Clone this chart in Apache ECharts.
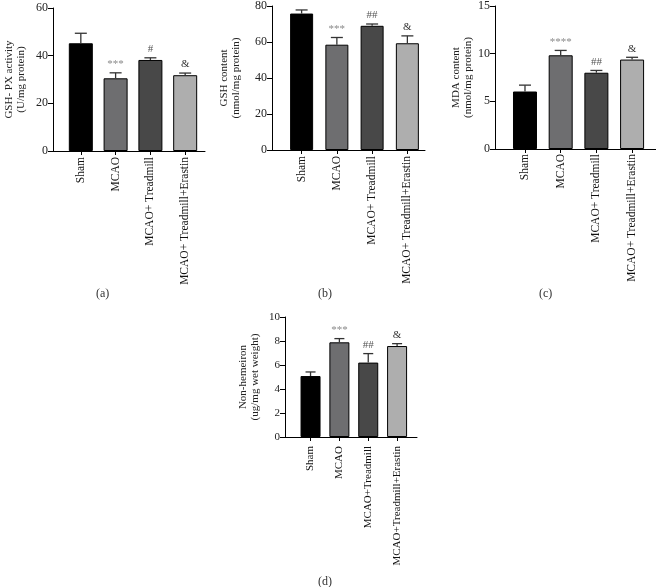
<!DOCTYPE html>
<html><head><meta charset="utf-8">
<script src="https://cdn.jsdelivr.net/npm/echarts@6/dist/echarts.min.js"></script>
<style>html,body{margin:0;padding:0;background:#fff}#c{width:656px;height:587px}</style>
</head><body><div id="c"></div>
<script>
// ---- data ----
const categoriesABC = ['Sham', 'MCAO', 'MCAO+ Treadmill', 'MCAO+ Treadmill+Erastin'];
const categoriesD = ['Sham', 'MCAO', 'MCAO+Treadmill', 'MCAO+Treadmill+Erastin'];
const gshpxValues = [45.2, 30.5, 38.2, 31.8];
const gshpxErrors = [4.2, 2.3, 0.9, 0.9];
const gshpxMarks = ['', '***', '#', '&'];
const gshValues = [75.8, 58.5, 69.0, 59.3];
const gshErrors = [2.0, 4.0, 1.0, 4.1];
const gshMarks = ['', '***', '##', '&'];
const mdaValues = [6.03, 9.83, 8.0, 9.38];
const mdaErrors = [0.67, 0.51, 0.24, 0.24];
const mdaMarks = ['', '****', '##', '&'];
const ironValues = [5.08, 7.89, 6.2, 7.58];
const ironErrors = [0.34, 0.31, 0.75, 0.2];
const ironMarks = ['', '***', '##', '&'];
const yTicksA = [0, 60, 20];
const yTicksB = [0, 80, 20];
const yTicksC = [0, 15, 5];
const yTicksD = [0, 10, 2];
const barColors = ['#000000', '#6e6e70', '#484848', '#aeaeae'];
const markColors = ['#333', '#8a8a8a', '#555', '#333'];

const FONT = 'Liberation Serif';

const panels = [
  {cats: categoriesABC, vals: gshpxValues, errs: gshpxErrors, marks: gshpxMarks, ticks: yTicksA,
   name: 'GSH- PX activity\n(U/mg protein)', grid: {left: 53, top: 8, width: 152, height: 143},
   xmin: -0.8, xmax: 3.57, bw: 24, cap: 12, nameGap: 26, label: '(a)', lx: 104, ly: 295,
   tickFont: 12, catFont: 11.5, catMargin: 6},
  {cats: categoriesABC, vals: gshValues, errs: gshErrors, marks: gshMarks, ticks: yTicksB,
   name: 'GSH content\n(nmol/mg protein)', grid: {left: 272, top: 4, width: 153, height: 146},
   xmin: -0.84, xmax: 3.5, bw: 23, cap: 12, nameGap: 30, label: '(b)', lx: 326, ly: 295,
   tickFont: 12, catFont: 11.5, catMargin: 6},
  {cats: categoriesABC, vals: mdaValues, errs: mdaErrors, marks: mdaMarks, ticks: yTicksC,
   name: 'MDA content\n(nmol/mg protein)', grid: {left: 495, top: 4, width: 161, height: 145},
   xmin: -0.84, xmax: 3.67, bw: 24, cap: 12, nameGap: 14, label: '(c)', lx: 547, ly: 295,
   tickFont: 12, catFont: 11.5, catMargin: 5},
  {cats: categoriesD, vals: ironValues, errs: ironErrors, marks: ironMarks, ticks: yTicksD,
   name: 'Non-hemeiron\n(ug/mg wet weight)', grid: {left: 285, top: 317, width: 132, height: 120},
   xmin: -0.885, xmax: 3.69, bw: 20, cap: 10, nameGap: 24, label: '(d)', lx: 326, ly: 583,
   tickFont: 11, catFont: 11, catMargin: 9}
];

const option = {
  animation: false,
  backgroundColor: '#fff',
  grid: [], xAxis: [], yAxis: [], series: [], graphic: []
};

panels.forEach((p, i) => {
  option.grid.push(Object.assign({containLabel: false}, p.grid));
  const idx = p.cats.map((c, k) => k);
  option.xAxis.push({
    type: 'value', gridIndex: i, min: p.xmin, max: p.xmax,
    splitLine: {show: false},
    axisLine: {show: true, onZero: false, lineStyle: {color: '#000', width: 1}},
    axisTick: {show: true, customValues: idx, length: 4, lineStyle: {color: '#000'}},
    axisLabel: {show: true, customValues: idx, rotate: 90, margin: p.catMargin,
      formatter: v => p.cats[Math.round(v)] || '',
      fontFamily: FONT, fontSize: p.catFont, color: '#111'}
  });
  option.yAxis.push({
    type: 'value', gridIndex: i, min: p.ticks[0], max: p.ticks[1], interval: p.ticks[2],
    splitLine: {show: false},
    axisLine: {show: true, onZero: false, lineStyle: {color: '#000', width: 1}},
    axisTick: {show: true, length: 5, lineStyle: {color: '#000'}},
    axisLabel: {fontFamily: FONT, fontSize: p.tickFont, color: '#222', margin: 5},
    name: p.name, nameLocation: 'middle', nameGap: p.nameGap, nameRotate: 90,
    nameTextStyle: {fontFamily: FONT, fontSize: 11, color: '#222', lineHeight: 12}
  });
  option.series.push({
    type: 'bar', xAxisIndex: i, yAxisIndex: i, barWidth: p.bw,
    data: p.vals.map((v, k) => ({value: [k, v], itemStyle: {color: barColors[k]}})),
    itemStyle: {borderColor: '#000', borderWidth: 1}
  });
  option.series.push({
    type: 'custom', xAxisIndex: i, yAxisIndex: i, z: 5,
    data: p.vals.map((v, k) => [k, v, v + p.errs[k]]),
    renderItem: (params, api) => {
      const k = api.value(0);
      const top = api.coord([k, api.value(2)]);
      const base = api.coord([k, api.value(1)]);
      const st = {stroke: '#333', lineWidth: 1.3};
      const children = [
        {type: 'line', shape: {x1: top[0], y1: base[1], x2: top[0], y2: top[1]}, style: st},
        {type: 'line', shape: {x1: top[0] - p.cap / 2, y1: top[1], x2: top[0] + p.cap / 2, y2: top[1]}, style: st}
      ];
      const m = p.marks[k];
      if (m) {
        children.push({type: 'text', x: top[0], y: top[1] - 3,
          style: {text: m, fill: markColors[k], font: '11px ' + FONT, align: 'center', verticalAlign: 'bottom'}});
      }
      return {type: 'group', children};
    }
  });
  option.graphic.push({type: 'text', left: p.lx - 8, top: p.ly - 7,
    style: {text: p.label, font: '12px ' + FONT, fill: '#333'}});
});

const chart = echarts.init(document.getElementById('c'), null, {renderer: 'canvas'});
chart.setOption(option);
</script></body></html>
